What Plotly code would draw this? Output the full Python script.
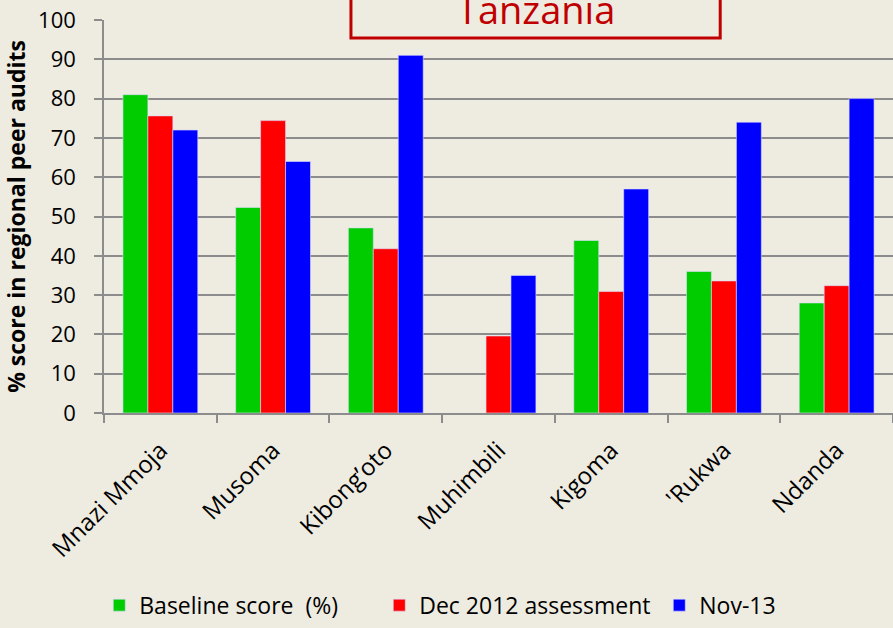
import plotly.graph_objects as go

categories = ["Mnazi Mmoja", "Musoma", "Kibong’oto", "Muhimbili", "Kigoma", "'Rukwa", "Ndanda"]
baseline = [81, 52.3, 47.1, None, 43.9, 36, 28]
dec2012 = [75.6, 74.4, 41.8, 19.6, 30.9, 33.6, 32.4]
nov13 = [72, 64, 91, 35, 57, 74, 80]
series_names = ["Baseline score  (%)", "Dec 2012 assessment", "Nov-13"]
series_colors = ["#00CC00", "#FF0000", "#0000FF"]
y_ticks = [0, 10, 20, 30, 40, 50, 60, 70, 80, 90, 100]
title_text = "Tanzania"
y_title = "% score in regional peer audits"

BG = "#EEEBE0"
GRID = "#8C8C8C"
FONT = "Open Sans"

fig = go.Figure()
for name, vals, col in zip(series_names, [baseline, dec2012, nov13], series_colors):
    fig.add_trace(go.Bar(
        x=categories, y=vals, name=name,
        marker=dict(color=col, line=dict(color="rgba(220,220,255,0.6)", width=1)),
    ))

fig.update_layout(
    width=893, height=628,
    margin=dict(l=104, r=0, t=20, b=215, autoexpand=False),
    paper_bgcolor=BG, plot_bgcolor=BG,
    barmode="group", bargap=0.336, bargroupgap=0,
    font=dict(family=FONT, color="#000000"),
    showlegend=True,
    legend=dict(
        orientation="h", x=-0.006, xanchor="left", y=-0.489, yanchor="middle",
        font=dict(size=23, family=FONT), bgcolor="rgba(0,0,0,0)",
        itemwidth=30, entrywidth=235, entrywidthmode="pixels",
    ),
    xaxis=dict(
        type="category", range=[-0.5, 6.5],
        tickson="boundaries", ticks="outside", ticklen=8, tickwidth=1.5, tickcolor=GRID,
        showline=True, linecolor=GRID, linewidth=1.5,
        tickangle=-45, tickfont=dict(size=24, family=FONT), ticklabelstandoff=12,
        showgrid=False, automargin=False,
    ),
    yaxis=dict(
        range=[0, 100], tickvals=y_ticks, ticks="outside", ticklen=8, tickwidth=1.5, tickcolor=GRID,
        showline=True, linecolor=GRID, linewidth=1.5,
        showgrid=True, gridcolor=GRID, gridwidth=1.5,
        tickfont=dict(size=22, family=FONT), ticklabelstandoff=14,
        zeroline=False, automargin=False,
        title=dict(text="<b>" + y_title + "</b>", font=dict(size=23, family=FONT), standoff=20),
    ),
)

fig.add_shape(
    type="rect", xref="paper", yref="paper",
    x0=0.313, x1=0.781, y0=0.954, y1=1.08,
    line=dict(color="#C00000", width=3), fillcolor=BG, layer="above",
)
fig.add_annotation(
    text=title_text, xref="paper", yref="paper", x=0.547, y=1.028,
    yanchor="middle", xanchor="center", showarrow=False,
    font=dict(size=38, family=FONT, color="#C00000"),
)

fig.write_html(
    "out.html",
    config={"displayModeBar": False},
    post_script="document.body.style.margin='0';document.body.style.background='#EEEBE0';",
)
